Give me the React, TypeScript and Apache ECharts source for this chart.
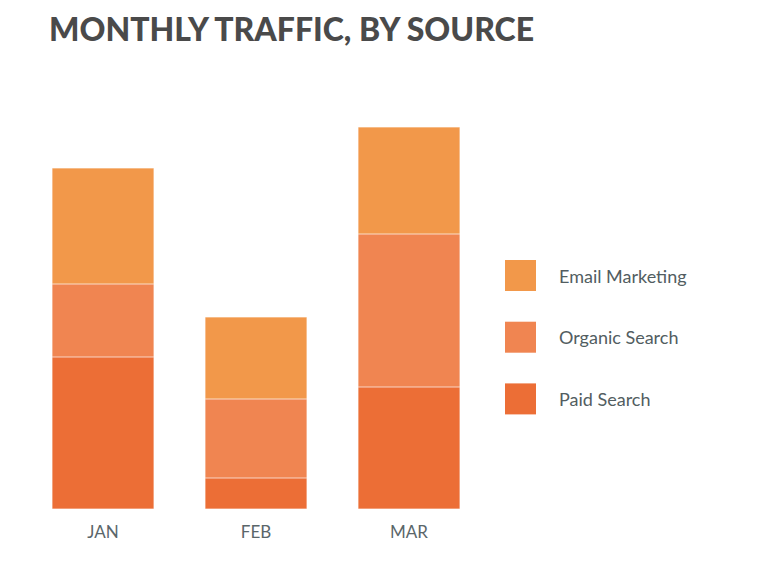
import React, { useEffect, useRef } from "react";
import * as echarts from "echarts";

const months = ["JAN", "FEB", "MAR"];
const paidSearch = [152, 31, 122];
const organicSearch = [73, 79, 153];
const emailMarketing = [116, 82, 107];

const COLORS = {
  email: "#F2984A",
  organic: "#F08551",
  paid: "#EC6E36",
};

export default function App() {
  const ref = useRef<HTMLDivElement>(null);
  useEffect(() => {
    if (!ref.current) return;
    const chart = echarts.init(ref.current, undefined, { renderer: "svg" });
    const seg = (name: string, data: number[], color: string) => ({
      name,
      type: "bar",
      stack: "total",
      data,
      barWidth: 102,
      itemStyle: { color, borderColor: "rgba(255,255,255,0.25)", borderWidth: 0.6 },
      emphasis: { disabled: true },
    });
    chart.setOption({
      animation: false,
      title: {
        text: "MONTHLY TRAFFIC, BY SOURCE",
        left: 41,
        top: 3,
        padding: 0,
        textStyle: {
          fontFamily: "Lato",
          fontWeight: 900,
          fontSize: 32,
          lineHeight: 34,
          color: "#4a4a4a",
        },
      },
      legend: {
        orient: "vertical",
        left: 497,
        top: 252,
        padding: 0,
        itemWidth: 31,
        itemHeight: 31,
        itemGap: 30.7,
        icon: "rect",
        data: ["Email Marketing", "Organic Search", "Paid Search"],
        itemStyle: { borderWidth: 0 },
        textStyle: {
          fontFamily: "Lato",
          fontSize: 18,
          color: "#525d61",
          padding: [0, 0, 4, 18],
        },
      },
      grid: { left: 18.5, width: 459, top: 101, bottom: 55, containLabel: false },
      xAxis: {
        type: "category",
        data: months,
        axisLine: { show: false },
        axisTick: { show: false },
        axisLabel: {
          fontFamily: "Lato",
          fontSize: 17,
          color: "#5a666a",
          margin: 14,
        },
      },
      yAxis: {
        type: "value",
        min: 0,
        max: 400,
        show: false,
        splitLine: { show: false },
      },
      series: [
        seg("Paid Search", paidSearch, COLORS.paid),
        seg("Organic Search", organicSearch, COLORS.organic),
        seg("Email Marketing", emailMarketing, COLORS.email),
      ],
    });
    return () => chart.dispose();
  }, []);
  return <div ref={ref} style={{ width: 758, height: 556 }} />;
}
